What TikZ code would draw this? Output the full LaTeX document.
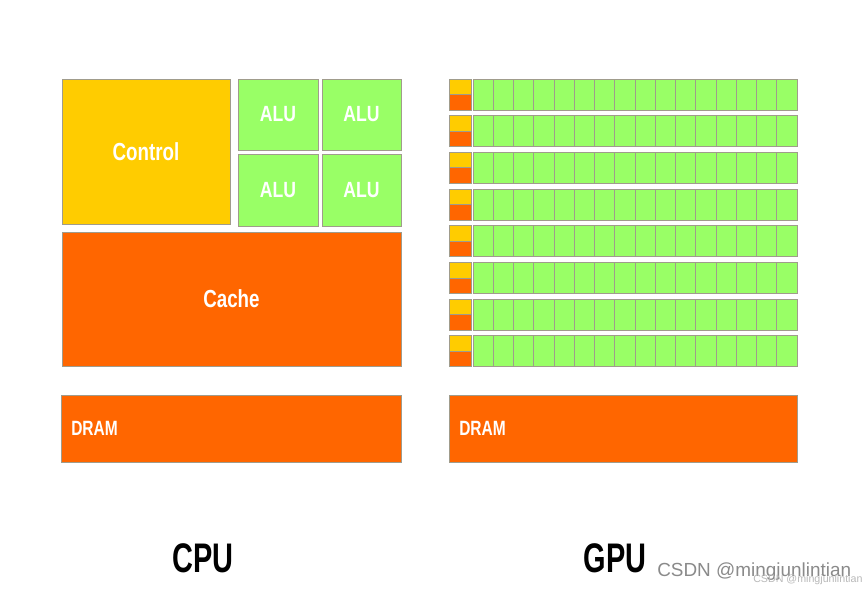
\documentclass[tikz,border=0pt]{standalone}
\usepackage{graphicx}
\usepackage{fontspec}
\setmainfont{Liberation Sans}
\definecolor{ctlyellow}{HTML}{FFCC00}
\definecolor{cacheorange}{HTML}{FF6600}
\definecolor{alugreen}{HTML}{99FF66}
\definecolor{edgegray}{HTML}{A09C8C}
\definecolor{wmgray}{HTML}{8A8A8A}
\newcommand{\blk}[7]{%
  \node[blk, fill=#6, minimum width={(#4-#2)*0.75pt}, minimum height={(#5-#3)*0.75pt}]
    (#1) at ({(#2+#4)/2},{(#3+#5)/2}) {#7};}
\newcommand{\lbl}[2]{\textbf{\scalebox{#1}[1]{#2}}}
\begin{document}
\begin{tikzpicture}[x=0.75pt,y=-0.75pt,
  blk/.style={draw=edgegray, line width=0.75pt, inner sep=0pt, outer sep=0pt, text=white},
  bigtxt/.style={font=\fontsize{18.5}{20}\selectfont},
  alutxt/.style={font=\fontsize{16.5}{18}\selectfont},
  dramtxt/.style={font=\fontsize{15.5}{17}\selectfont, text=white, anchor=west, inner sep=0pt},
  captxt/.style={font=\fontsize{31}{33}\selectfont, text=black, inner sep=0pt},
  wm/.style={text=wmgray, inner sep=0pt}]
\useasboundingbox[fill=white] (0,0) rectangle (865,593);
% CPU
\blk{control}{62}{79}{230}{224}{ctlyellow}{}
\node[bigtxt, text=white] (controltxt) at (control.center) {\lbl{0.76}{Control}};
\blk{alu1}{238}{79}{318}{150}{alugreen}{}
\blk{alu2}{322}{79}{401}{150}{alugreen}{}
\blk{alu3}{238}{154}{318}{226}{alugreen}{}
\blk{alu4}{322}{154}{401}{226}{alugreen}{}
\foreach \a in {alu1,alu2,alu3,alu4}{
  \node[alutxt, text=white] (\a txt) at (\a.center) {\lbl{0.8}{ALU}};}
\blk{cache}{62}{232}{401}{366}{cacheorange}{}
\node[bigtxt, text=white] (cachetxt) at (cache.center) {\lbl{0.76}{Cache}};
\blk{cpudram}{61}{395}{401}{462}{cacheorange}{}
\node[dramtxt] (cpudramtxt) at (71,428) {\lbl{0.75}{DRAM}};
% GPU
\foreach \r in {0,...,7}{
  \pgfmathsetmacro{\yt}{79+\r*36.7}
  \pgfmathsetmacro{\ym}{\yt+15.5}
  \pgfmathsetmacro{\yb}{\yt+31}
  \blk{gctl\r}{449}{\yt}{471}{\ym}{ctlyellow}{}
  \blk{gcache\r}{449}{\ym}{471}{\yb}{cacheorange}{}
  \foreach \c in {0,...,15}{
    \pgfmathsetmacro{\xl}{473+\c*20.25}
    \pgfmathsetmacro{\xr}{\xl+20.25}
    \blk{g\r-\c}{\xl}{\yt}{\xr}{\yb}{alugreen}{}
  }
}
\blk{gpudram}{449}{395}{797}{462}{cacheorange}{}
\node[dramtxt] (gpudramtxt) at (459,428) {\lbl{0.75}{DRAM}};
% captions
\node[captxt] (cpulbl) at (203,558) {\lbl{0.7}{CPU}};
\node[captxt] (gpulbl) at (615,558) {\lbl{0.7}{GPU}};
% watermark
\node[wm, anchor=west, font=\fontsize{14.2}{16}\selectfont] (wm1) at (657,572) {CSDN @mingjunlintian};
\node[wm, anchor=west, text=wmgray!60, font=\fontsize{8}{9}\selectfont] (wm2) at (753,580) {CSDN @mingjunlintian};
\end{tikzpicture}
\end{document}
